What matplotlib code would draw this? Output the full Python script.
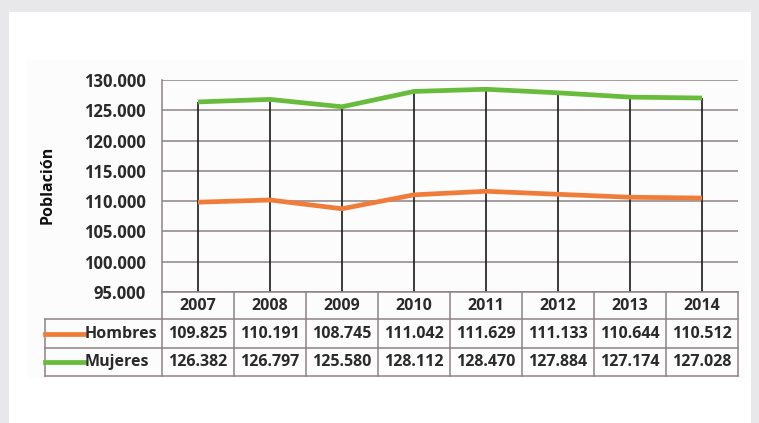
import matplotlib.pyplot as plt
from matplotlib.lines import Line2D
from matplotlib.patches import Rectangle

years = ['2007', '2008', '2009', '2010', '2011', '2012', '2013', '2014']
hombres = [109825, 110191, 108745, 111042, 111629, 111133, 110644, 110512]
mujeres = [126382, 126797, 125580, 128112, 128470, 127884, 127174, 127028]
series = [('Hombres', hombres, '#f07c3a'), ('Mujeres', mujeres, '#68bc3c')]
yticks = list(range(95000, 130001, 5000))

W, H = 759, 423
plt.rcParams['font.family'] = ['Open Sans', 'DejaVu Sans']
txt = dict(fontsize=11.5, fontweight='bold', color='#2a2a2a')

def fx(px):
    return px / W

def fy(py):
    return 1 - py / H

fig = plt.figure(figsize=(W / 100, H / 100), dpi=100)
fig.patch.set_facecolor('#e8e8ea')
fig.add_artist(Rectangle((fx(9), 0), fx(742), fy(12), transform=fig.transFigure,
                         facecolor='white', edgecolor='none', zorder=0))
fig.add_artist(Rectangle((fx(27), fy(378)), fx(721), fy(60) - fy(378), transform=fig.transFigure,
                         facecolor='#fcfcfc', edgecolor='none', zorder=0))

# plot area
left, right, top, bottom = 162, 738, 80, 292
ax = fig.add_axes([fx(left), fy(bottom), fx(right - left), fy(top) - fy(bottom)])
ax.set_facecolor('none')
x = list(range(len(years)))
ax.set_xlim(-0.5, len(years) - 0.5)
ax.set_ylim(yticks[0], yticks[-1])
ax.set_yticks(yticks)
ax.set_yticklabels([f'{v:,}'.replace(',', '.') for v in yticks], fontsize=12,
                   fontweight='bold', color='#2a2a2a')
ax.set_xticks([])
ax.tick_params(axis='y', length=0, pad=11.5)
ax.grid(axis='y', color='#8c8283', lw=1.1)
for s in ['top', 'right', 'bottom']:
    ax.spines[s].set_visible(False)
ax.spines['left'].set_color('#8c8283')
ax.spines['left'].set_linewidth(1.1)

# drop lines
tops = [max(h, m) for h, m in zip(hombres, mujeres)]
ax.vlines(x, yticks[0], tops, color='#1a1a1a', lw=1.2, zorder=3)
for name, vals, col in series:
    ax.plot(x, vals, color=col, lw=3.4, solid_capstyle='butt', zorder=4)

fig.text(fx(48), fy(185), 'Población', rotation=90, ha='center', va='center',
         fontsize=11.5, fontweight='bold', color='#111111')

# data table
gc = '#8c8283'
row_y = [292, 319, 348, 376]
col_w = (right - left) / len(years)
tleft = 45
def hline(y, x0, x1):
    fig.add_artist(Line2D([fx(x0), fx(x1)], [fy(y), fy(y)], color=gc, lw=1.1))
def vline(xp, y0, y1):
    fig.add_artist(Line2D([fx(xp), fx(xp)], [fy(y0), fy(y1)], color=gc, lw=1.1))

hline(row_y[0], left, right)
hline(row_y[1], tleft, right)
hline(row_y[2], tleft, right)
hline(row_y[3], tleft, right)
vline(tleft, row_y[1], row_y[3])
for i in range(len(years) + 1):
    vline(left + i * col_w, row_y[0], row_y[3])

for i, yr in enumerate(years):
    fig.text(fx(left + (i + 0.5) * col_w), fy((row_y[0] + row_y[1]) / 2), yr,
             ha='center', va='center', **txt)
for r, (name, vals, col) in enumerate(series):
    yc = (row_y[r + 1] + row_y[r + 2]) / 2
    fig.add_artist(Line2D([fx(tleft), fx(84)], [fy(yc), fy(yc)], color=col, lw=3.4))
    fig.text(fx(85), fy(yc), name, ha='left', va='center', **txt)
    for i, v in enumerate(vals):
        fig.text(fx(left + (i + 0.5) * col_w), fy(yc), f'{v:,}'.replace(',', '.'),
                 ha='center', va='center', **txt)

fig.savefig('out.png', dpi=100, facecolor=fig.get_facecolor())
